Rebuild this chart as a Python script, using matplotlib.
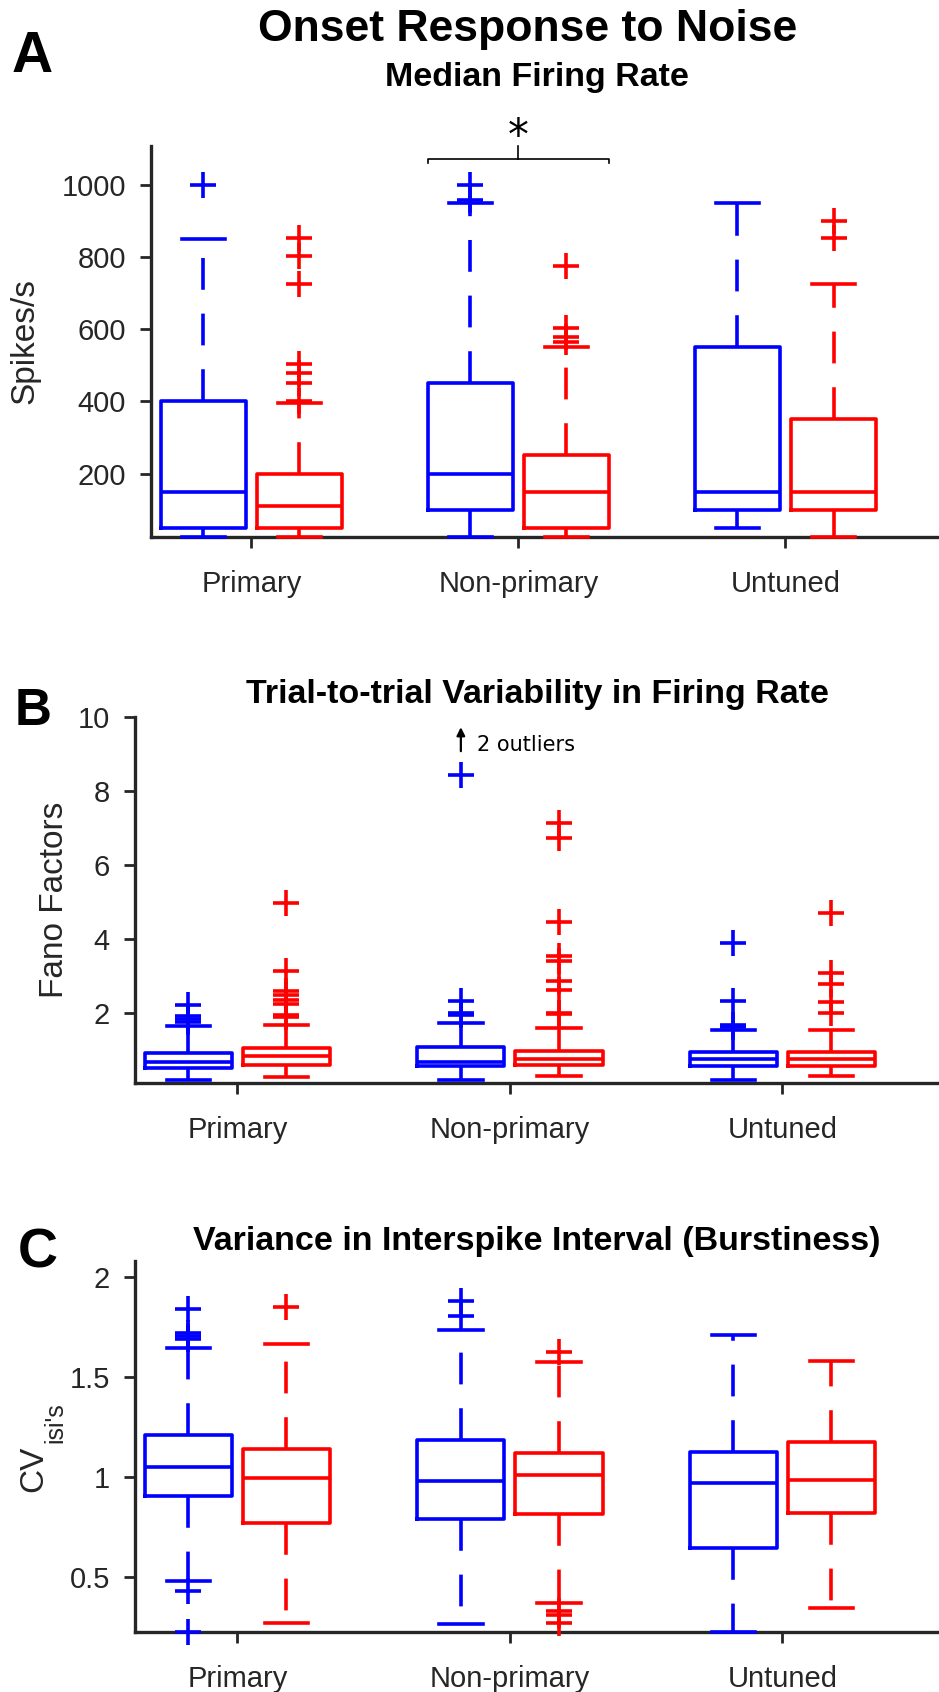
import matplotlib
matplotlib.use('Agg')
import matplotlib.pyplot as plt

plt.rcParams['font.family'] = ['Liberation Sans', 'DejaVu Sans']

W, H = 939, 1692
BLUE = (0, 0, 1)
RED = (1, 0, 0)
AXC = '#262626'
LW = 2.6

groups = ['Primary', 'Non-primary', 'Untuned']

# box stats per group: (whislo, q1, median, q3, whishi)
# A: median firing rate (spikes/s)
rate_blue_box = [(25, 50, 150, 400, 850), (25, 100, 200, 450, 950), (50, 100, 150, 550, 950)]
rate_blue_out = [[1000], [958, 1000], []]
rate_red_box = [(25, 50, 110, 200, 395), (25, 50, 150, 250, 550), (25, 100, 150, 350, 725)]
rate_red_out = [[402, 452, 477, 503, 725, 802, 853], [565, 578, 602, 776], [853, 900]]

# B: fano factors
fano_blue_box = [(0.19, 0.50, 0.68, 0.92, 1.63), (0.18, 0.57, 0.68, 1.08, 1.73), (0.19, 0.57, 0.75, 0.95, 1.54)]
fano_blue_out = [[1.75, 1.83, 1.92, 2.2], [1.95, 2.0, 2.31, 8.43], [1.62, 1.66, 2.31, 3.9]]
fano_red_box = [(0.27, 0.60, 0.82, 1.04, 1.68), (0.30, 0.59, 0.76, 0.97, 1.59), (0.28, 0.57, 0.75, 0.95, 1.54)]
fano_red_out = [[1.9, 1.95, 2.25, 2.36, 2.47, 2.6, 3.12, 4.98],
                [1.96, 2.0, 2.63, 2.85, 3.41, 3.53, 4.45, 6.73, 7.12],
                [2.0, 2.28, 2.78, 3.09, 4.69]]

# C: CV of interspike intervals
cv_blue_box = [(0.48, 0.905, 1.05, 1.21, 1.645), (0.263, 0.79, 0.978, 1.184, 1.738), (0.224, 0.644, 0.971, 1.126, 1.713)]
cv_blue_out = [[0.22, 0.43, 1.69, 1.705, 1.72, 1.84], [1.805, 1.88], []]
cv_red_box = [(0.27, 0.77, 0.995, 1.14, 1.667), (0.367, 0.816, 1.008, 1.117, 1.574), (0.345, 0.82, 0.985, 1.173, 1.579)]
cv_red_out = [[1.85], [0.27, 0.31, 0.33, 1.624], []]

OFFSET = 0.18
BOXW = 0.32
XLIM = (0.624, 3.575)


def make_stats(boxes, outliers):
    stats = []
    for (lo, q1, med, q3, hi), fl in zip(boxes, outliers):
        stats.append(dict(whislo=lo, q1=q1, med=med, q3=q3, whishi=hi, fliers=fl))
    return stats


def draw_boxes(ax, boxes, outliers, positions, color):
    dash = (0, (8.8, 6.6))
    res = ax.bxp(make_stats(boxes, outliers), positions=positions, widths=BOXW,
                 boxprops=dict(color=color, lw=LW),
                 whiskerprops=dict(color=color, lw=LW, linestyle=dash),
                 capprops=dict(color=color, lw=LW),
                 medianprops=dict(color=color, lw=LW),
                 flierprops=dict(marker='+', markeredgecolor=color, markersize=19,
                                 markeredgewidth=LW, linestyle='none'),
                 manage_ticks=False, zorder=3)
    for key in ('whiskers', 'caps', 'boxes', 'medians', 'fliers'):
        for art in res[key]:
            art.set_clip_on(False)


def px_axes(fig, left, top, right, bottom):
    return fig.add_axes([left / W, 1 - bottom / H, (right - left) / W, (bottom - top) / H])


def ftext(fig, x, y, s, **kw):
    return fig.text(x / W, 1 - y / H, s, **kw)


def style_axes(ax, ylim, yticks, yticklabels):
    ax.set_xlim(*XLIM)
    ax.set_ylim(*ylim)
    ax.set_xticks([1, 2, 3], groups)
    ax.set_yticks(yticks, yticklabels)
    for side in ('top', 'right'):
        ax.spines[side].set_visible(False)
    for side in ('left', 'bottom'):
        ax.spines[side].set_linewidth(2.4)
        ax.spines[side].set_color(AXC)
    ax.tick_params(direction='out', length=8, width=2, colors=AXC, labelsize=21)
    ax.tick_params(axis='x', pad=16)
    ax.tick_params(axis='y', pad=10)


def draw_panel(ax, blue_box, blue_out, red_box, red_out):
    xs = [1, 2, 3]
    draw_boxes(ax, blue_box, blue_out, [x - OFFSET for x in xs], BLUE)
    draw_boxes(ax, red_box, red_out, [x + OFFSET for x in xs], RED)


fig = plt.figure(figsize=(W / 100, H / 100), dpi=100)

# ---- Panel A
axA = px_axes(fig, 151, 146, 939, 536.7)
draw_panel(axA, rate_blue_box, rate_blue_out, rate_red_box, rate_red_out)
style_axes(axA, (25, 1107), [200, 400, 600, 800, 1000], ['200', '400', '600', '800', '1000'])

# significance bracket over Non-primary
bl = 2 - OFFSET - BOXW / 2
br = 2 + OFFSET + BOXW / 2
axA.plot([bl, bl, br, br], [1060, 1071, 1071, 1060], color='k', lw=1.2, clip_on=False)
axA.plot([2, 2], [1071, 1107], color='k', lw=1.2, clip_on=False)
axA.text(2, 1100, '*', ha='center', va='baseline', fontsize=30, family='DejaVu Sans', clip_on=False)

ftext(fig, 12, 72, 'A', fontsize=41, fontweight='bold', ha='left', va='baseline')
ftext(fig, 528, 41, 'Onset Response to Noise', fontsize=32, fontweight='bold', ha='center', va='baseline')
ftext(fig, 537, 86, 'Median Firing Rate', fontsize=24.5, fontweight='bold', ha='center', va='baseline')
ftext(fig, 33, 341, 'Spikes/s', fontsize=24, color=AXC, rotation=90, rotation_mode='anchor',
      ha='center', va='baseline')

# ---- Panel B
axB = px_axes(fig, 135, 717, 939, 1082.7)
draw_panel(axB, fano_blue_box, fano_blue_out, fano_red_box, fano_red_out)
style_axes(axB, (0.11, 10), [2, 4, 6, 8, 10], ['2', '4', '6', '8', '10'])

ax_x = 2 - OFFSET
axB.annotate('', xy=(ax_x, 9.8), xytext=(ax_x, 9.0),
             arrowprops=dict(arrowstyle='-|>', color='k', lw=1.6, mutation_scale=12))
axB.text(ax_x + 0.06, 9.23, '2 outliers', fontsize=15, family='DejaVu Sans', va='center', ha='left')

ftext(fig, 15, 725, 'B', fontsize=37, fontweight='bold', ha='left', va='baseline')
ftext(fig, 537, 703, 'Trial-to-trial Variability in Firing Rate', fontsize=24.5, fontweight='bold',
      ha='center', va='baseline')
ftext(fig, 63, 900, 'Fano Factors', fontsize=24, color=AXC, rotation=90, rotation_mode='anchor',
      ha='center', va='baseline')

# ---- Panel C
axC = px_axes(fig, 135, 1260.7, 939, 1631.7)
draw_panel(axC, cv_blue_box, cv_blue_out, cv_red_box, cv_red_out)
style_axes(axC, (0.224, 2.083), [0.5, 1, 1.5, 2], ['0.5', '1', '1.5', '2'])

ftext(fig, 18, 1268, 'C', fontsize=40, fontweight='bold', ha='left', va='baseline')
ftext(fig, 537, 1250, 'Variance in Interspike Interval (Burstiness)', fontsize=24.5, fontweight='bold',
      ha='center', va='baseline')
ftext(fig, 42, 1492, 'CV', fontsize=24, color=AXC, rotation=90, rotation_mode='anchor',
      ha='left', va='baseline')
ftext(fig, 62, 1443, "isi's", fontsize=18, color=AXC, rotation=90, rotation_mode='anchor',
      ha='left', va='baseline')

fig.savefig('out.png', dpi=100)
